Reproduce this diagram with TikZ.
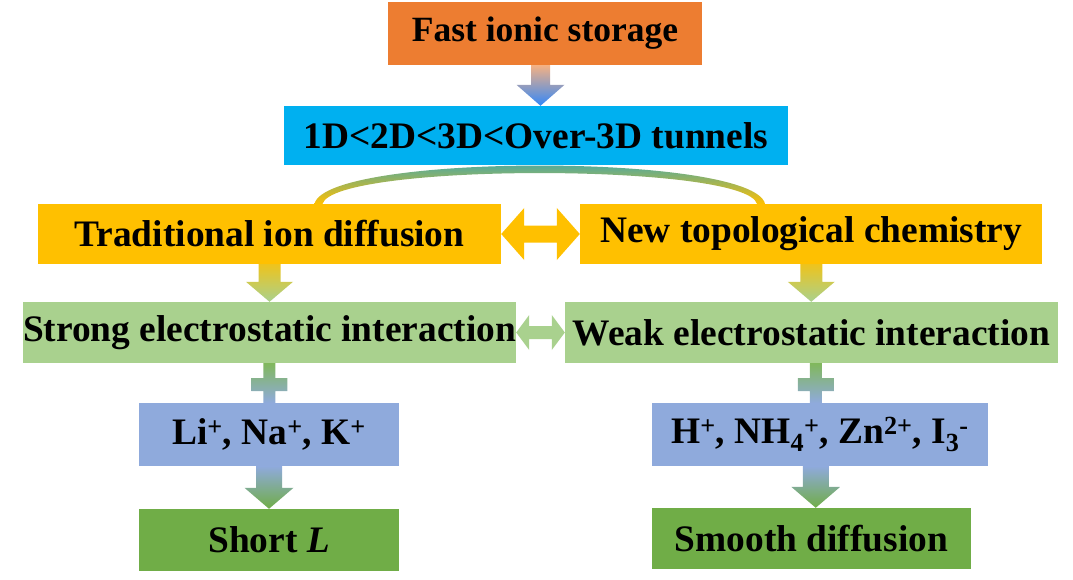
\documentclass[tikz,border=0pt]{standalone}
\usepackage{fontspec}
\setmainfont{Liberation Serif}
\usetikzlibrary{calc}

\definecolor{boxorange}{HTML}{ED7D31}
\definecolor{boxblue}{HTML}{00B0F0}
\definecolor{boxyellow}{HTML}{FFC000}
\definecolor{boxlgreen}{HTML}{A9D18E}
\definecolor{boxgrayblue}{HTML}{8FAADC}
\definecolor{boxgreen}{HTML}{70AD47}
\definecolor{arcteal}{HTML}{20A4CC}

\newcommand{\blockdown}[7]{%
  \path ($(#1.south)!.5!(#2.north)$) coordinate (mid);
  \path (mid |- #1.south) coordinate (s0) (mid |- #2.north) coordinate (s1);
  \shade[top color=#6,bottom color=#7]
    ($(s0)+(-#3,0)$) -- ($(s1)+(-#3,-#5)$) -- ($(s1)+(-#4,-#5)$) -- (s1)
    -- ($(s1)+(#4,-#5)$) -- ($(s1)+(#3,-#5)$) -- ($(s0)+(#3,0)$) -- cycle;}

\newcommand{\blockboth}[6]{%
  \fill[#6] (#1.east) -- ($(#1.east)+(#5,-#4)$) -- ($(#1.east)+(#5,-#3)$)
    -- ($(#2.west)+(-#5,-#3)$) -- ($(#2.west)+(-#5,-#4)$) -- (#2.west)
    -- ($(#2.west)+(-#5,#4)$) -- ($(#2.west)+(-#5,#3)$)
    -- ($(#1.east)+(#5,#3)$) -- ($(#1.east)+(#5,#4)$) -- cycle;}

\newcommand{\blockcross}[2]{%
  \path ($(#1.south)!.5!(#2.north)$) coordinate (mid);
  \path (mid |- #1.south) coordinate (s0) (mid |- #2.north) coordinate (s1);
  \shade[top color=boxgreen!70!boxlgreen,bottom color=boxgrayblue]
    ($(s0)+(-6,0)$) -- ($(s0)+(-6,15)$) -- ($(s0)+(-18,15)$) -- ($(s0)+(-18,28)$)
    -- ($(s0)+(-6,28)$) -- ($(s1)+(-6,0)$) -- ($(s1)+(6,0)$) -- ($(s0)+(6,28)$)
    -- ($(s0)+(18,28)$) -- ($(s0)+(18,15)$) -- ($(s0)+(6,15)$) -- ($(s0)+(6,0)$) -- cycle;}

\begin{document}
\begin{tikzpicture}[x=1pt,y=-1pt,
  box/.style={inner sep=0pt,font=\bfseries\fontsize{37.4}{42}\selectfont}]
\useasboundingbox (0,0) rectangle (1073,580);
\node[box,fill=boxorange,minimum width=314pt,minimum height=63pt,font=\bfseries\fontsize{35.5}{40}\selectfont] (fast) at (545,33.5) {Fast ionic storage};
\node[box,fill=boxblue,minimum width=504pt,minimum height=59pt] (tunnels) at (536,135.5) {1D<2D<3D<Over-3D tunnels};
\node[box,fill=boxyellow,minimum width=463pt,minimum height=60pt] (trad) at (269.5,234) {Traditional ion diffusion};
\node[box,fill=boxyellow,minimum width=462pt,minimum height=60pt] (newtop) at (811,234) {New topological chemistry};
\node[box,fill=boxlgreen,minimum width=493pt,minimum height=61pt] (strong) at (269.5,332.5) {Strong electrostatic interaction};
\node[box,fill=boxlgreen,minimum width=493pt,minimum height=61pt] (weak) at (811.5,332.5) {Weak electrostatic interaction};
\node[box,fill=boxgrayblue,minimum width=260pt,minimum height=63pt] (alkali) at (269,434.5) {Li\textsuperscript{+}, Na\textsuperscript{+}, K\textsuperscript{+}};
\node[box,fill=boxgrayblue,minimum width=336pt,minimum height=63pt] (multi) at (820,434.5) {H\textsuperscript{+}, NH\textsubscript{4}\textsuperscript{+}, Zn\textsuperscript{2+}, I\textsubscript{3}\textsuperscript{-}};
\node[box,fill=boxgreen,minimum width=260pt,minimum height=62pt] (shortL) at (269,540) {Short \textit{L}};
\node[box,fill=boxgreen,minimum width=319pt,minimum height=61pt] (smooth) at (811.5,538.5) {Smooth diffusion};

\blockdown{fast}{tunnels}{9.5}{24}{21}{boxorange!60!white}{boxblue!60!blue!80!white}
\blockdown{trad}{strong}{11}{23.5}{20}{boxyellow!80!boxlgreen}{boxlgreen}
\blockdown{newtop}{weak}{11}{23.5}{20}{boxyellow!80!boxlgreen}{boxlgreen}
\blockdown{alkali}{shortL}{13}{24.5}{21}{boxgrayblue}{boxgreen}
\blockdown{multi}{smooth}{13}{24.5}{21}{boxgrayblue}{boxgreen}
\blockcross{strong}{alkali}
\blockcross{weak}{multi}
\blockboth{trad}{newtop}{8.5}{26}{23}{boxyellow}
\blockboth{strong}{weak}{6.5}{17.5}{13}{boxlgreen}

\coordinate (arcL) at ($(trad.north)+(49,0)$);
\coordinate (arcR) at ($(newtop.north)+(-50,0)$);
\shade[top color=arcteal,middle color=arcteal!45!boxyellow,bottom color=boxyellow]
  ($(arcL)+(-4,0)$) .. controls +(12,-51) and +(-12,-51) .. ($(arcR)+(4,0)$)
  -- ($(arcR)+(-4,0)$) .. controls +(-12,-41) and +(12,-41) .. ($(arcL)+(4,0)$) -- cycle;
\end{tikzpicture}
\end{document}
